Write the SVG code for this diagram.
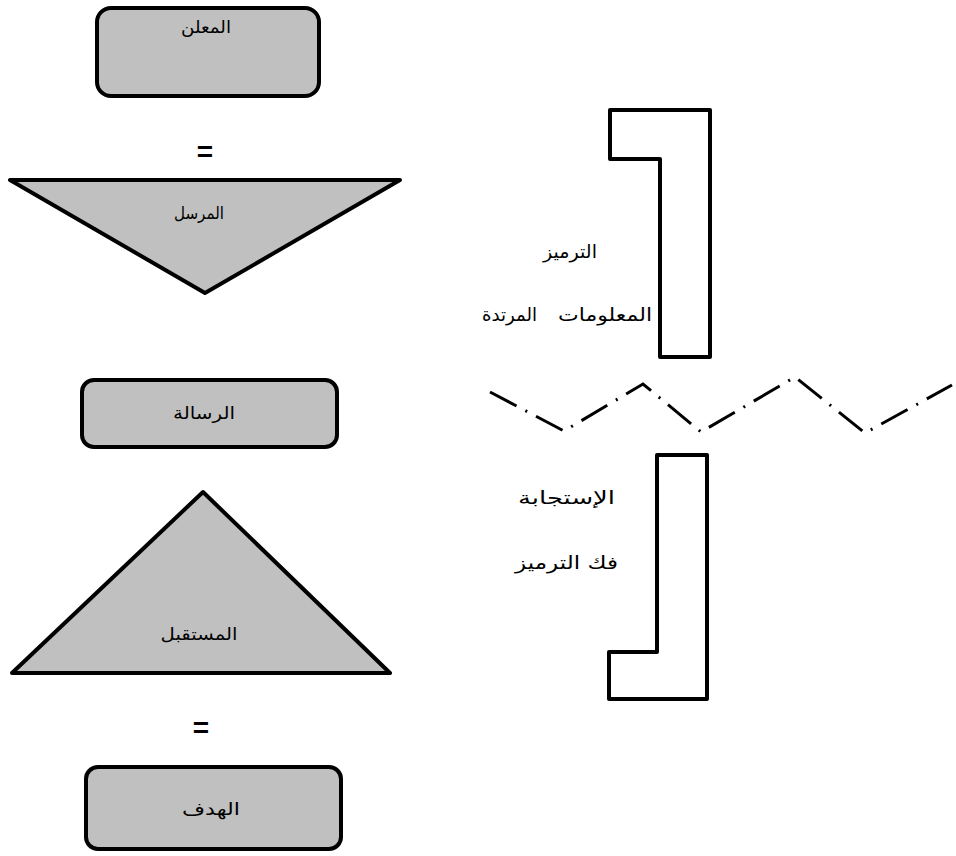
<svg xmlns="http://www.w3.org/2000/svg" width="956" height="856" viewBox="0 0 956 856">
<style>
.shape{fill:#c0c0c0;stroke:#000;stroke-width:4;stroke-linejoin:round}
.brk{fill:#fff;stroke:#000;stroke-width:4;stroke-linejoin:round}
.lbl{font-family:"DejaVu Sans",sans-serif;font-size:17px;fill:#000}
.rl{font-size:18px}
.eq{font-family:"Liberation Sans",sans-serif;font-weight:bold;font-size:28px;fill:#000;text-anchor:middle}
.zz{fill:none;stroke:#000;stroke-width:3;stroke-dasharray:30 10 2 10}
</style>
<rect width="956" height="856" fill="#fff"/>
<g id="n-advertiser">
<rect class="shape" x="97" y="8" width="222" height="88" rx="14"/>
<text class="lbl" x="206" y="33" text-anchor="middle" textLength="50" lengthAdjust="spacingAndGlyphs">المعلن</text>
</g>
<g id="eq1"><text class="eq" x="205" y="161">=</text></g>
<g id="n-sender">
<polygon class="shape" points="10,180 400,180 205,293"/>
<text class="lbl" x="199" y="219" text-anchor="middle" textLength="50" lengthAdjust="spacingAndGlyphs">المرسل</text>
</g>
<g id="n-message">
<rect class="shape" x="82" y="380" width="255" height="67" rx="12"/>
<text class="lbl" x="204" y="419" text-anchor="middle" textLength="62" lengthAdjust="spacingAndGlyphs">الرسالة</text>
</g>
<g id="n-receiver">
<polygon class="shape" points="203,492 390,673 12,673"/>
<text class="lbl" x="199" y="640" text-anchor="middle" textLength="77" lengthAdjust="spacingAndGlyphs">المستقبل</text>
</g>
<g id="eq2"><text class="eq" x="201" y="737">=</text></g>
<g id="n-goal">
<rect class="shape" x="86" y="767" width="255" height="82" rx="12"/>
<text class="lbl" x="211" y="815" text-anchor="middle" textLength="58" lengthAdjust="spacingAndGlyphs">الهدف</text>
</g>
<g id="n-encoding">
<polygon class="brk" points="610,110 710,110 710,357 660,357 660,159 610,159"/>
<text class="lbl rl" x="597" y="258" text-anchor="end" textLength="54" lengthAdjust="spacingAndGlyphs">الترميز</text>
<text class="lbl rl" x="652" y="321" text-anchor="end" textLength="94" lengthAdjust="spacingAndGlyphs">المعلومات</text>
<text class="lbl rl" x="537" y="321" text-anchor="end" textLength="55" lengthAdjust="spacingAndGlyphs">المرتدة</text>
</g>
<g id="n-decoding">
<polygon class="brk" points="657,455 707,455 707,699 609,699 609,652 657,652"/>
<text class="lbl rl" x="615" y="504" text-anchor="end" textLength="97" lengthAdjust="spacingAndGlyphs">الإستجابة</text>
<text class="lbl rl" x="618" y="569" text-anchor="end" textLength="103" lengthAdjust="spacingAndGlyphs">فك الترميز</text>
</g>
<g id="connectors">
<polyline class="zz" points="490,392 564,431 643,384 701,432 795,377 865,433 952,385"/>
</g>
</svg>
